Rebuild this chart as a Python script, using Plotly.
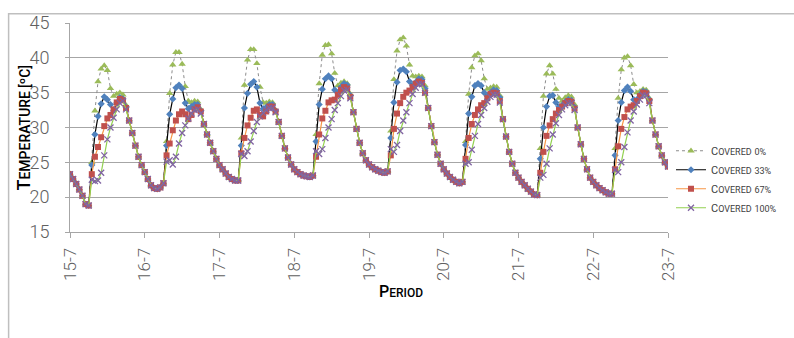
import plotly.graph_objects as go

# ---------------- data (hourly, 15-7 00:00 .. 23-7 00:00) ----------------
tick_labels = ["15-7", "16-7", "17-7", "18-7", "19-7", "20-7", "21-7", "22-7", "23-7"]
series_names = ["Covered 0%", "Covered 33%", "Covered 67%", "Covered 100%"]

# night values h0..h6 (all cases nearly equal)
night = [
    [23.3, 22.6, 21.9, 21.1, 20.2, 19.0, 18.8],
    [23.6, 22.6, 21.7, 21.3, 21.2, 21.4, 22.0],
    [24.6, 24.0, 23.4, 22.9, 22.6, 22.4, 22.4],
    [24.0, 23.6, 23.3, 23.1, 23.0, 22.9, 23.1],
    [24.7, 24.3, 24.0, 23.8, 23.6, 23.5, 23.7],
    [24.0, 23.4, 22.9, 22.5, 22.2, 22.0, 22.2],
    [22.8, 22.2, 21.7, 21.2, 20.8, 20.4, 20.3],
    [22.2, 21.7, 21.3, 21.0, 20.7, 20.5, 20.5],
]
# evening values h19..h23
evening = [
    [31.0, 29.2, 27.4, 25.8, 24.6],
    [30.5, 29.0, 27.8, 26.6, 25.5],
    [30.8, 28.8, 27.0, 25.7, 24.7],
    [32.2, 29.8, 27.8, 26.3, 25.3],
    [32.8, 30.2, 27.9, 26.1, 24.8],
    [31.2, 28.7, 26.5, 24.8, 23.5],
    [30.0, 27.6, 25.5, 24.0, 22.8],
    [31.0, 29.0, 27.3, 26.0, 25.0],
]
end_value = 24.4

# daytime values h7..h18 per case
day_0 = [
    [25.0, 32.4, 36.6, 38.4, 38.9, 38.2, 35.6, 34.5, 34.8, 35.0, 34.7, 33.2],
    [28.0, 34.9, 39.0, 40.8, 40.8, 39.1, 35.9, 33.8, 33.6, 33.8, 33.7, 32.6],
    [28.5, 36.1, 39.7, 41.2, 41.2, 39.2, 35.8, 33.6, 33.5, 33.7, 33.6, 32.5],
    [29.0, 36.3, 40.4, 41.8, 41.9, 40.6, 37.8, 36.0, 36.4, 36.6, 36.3, 34.8],
    [29.5, 36.9, 41.0, 42.6, 42.9, 41.7, 39.0, 37.4, 37.3, 37.4, 37.3, 36.0],
    [28.0, 34.8, 38.6, 40.3, 40.6, 39.6, 37.0, 35.5, 35.7, 35.9, 35.8, 34.6],
    [27.0, 34.5, 37.7, 38.9, 37.7, 35.5, 34.2, 33.8, 34.3, 34.6, 34.4, 33.3],
    [27.0, 34.2, 38.3, 40.0, 40.2, 38.9, 36.2, 35.0, 35.2, 35.5, 35.4, 34.2],
]
day_33 = [
    [24.6, 29.0, 31.6, 33.4, 34.4, 34.0, 33.3, 32.4, 33.5, 34.3, 34.1, 32.9],
    [27.4, 31.9, 34.1, 35.7, 36.1, 35.6, 33.5, 32.7, 33.0, 33.3, 33.3, 32.4],
    [27.4, 32.8, 34.9, 36.2, 36.6, 35.8, 33.5, 32.7, 32.9, 33.3, 33.3, 32.4],
    [28.0, 33.3, 35.5, 37.0, 37.4, 37.0, 35.4, 35.0, 35.8, 36.3, 36.1, 34.6],
    [28.5, 33.6, 36.5, 38.2, 38.4, 38.0, 36.6, 36.0, 36.5, 37.0, 36.9, 35.6],
    [27.5, 32.0, 34.4, 36.0, 36.3, 36.0, 35.0, 34.5, 35.0, 35.4, 35.3, 34.3],
    [25.5, 30.0, 33.0, 34.5, 34.6, 33.6, 33.0, 33.2, 33.7, 34.0, 33.9, 32.9],
    [26.0, 31.0, 33.6, 35.3, 35.8, 35.2, 34.0, 34.0, 34.7, 35.2, 35.1, 34.0],
]
day_67 = [
    [23.3, 25.8, 27.2, 28.6, 30.2, 31.3, 31.8, 32.6, 33.6, 34.1, 33.9, 32.8],
    [26.0, 27.7, 29.6, 31.0, 31.9, 32.3, 31.9, 31.2, 31.8, 32.6, 32.9, 32.3],
    [26.3, 28.5, 30.3, 31.4, 32.4, 32.6, 31.8, 31.6, 32.3, 33.0, 33.0, 32.3],
    [25.8, 29.0, 31.3, 32.4, 33.6, 33.9, 34.0, 34.7, 35.4, 35.8, 35.6, 34.4],
    [26.0, 29.8, 32.0, 33.5, 34.4, 35.0, 35.3, 35.8, 36.3, 36.6, 36.4, 35.0],
    [25.5, 28.5, 30.5, 31.8, 32.6, 33.2, 33.5, 34.2, 34.8, 35.0, 34.9, 33.8],
    [23.5, 26.5, 28.8, 30.3, 31.2, 32.0, 32.5, 33.0, 33.5, 33.8, 33.7, 32.7],
    [24.0, 27.3, 29.8, 31.5, 32.6, 33.0, 33.2, 33.8, 34.5, 35.0, 34.9, 33.8],
]
day_100 = [
    [22.5, 22.3, 22.4, 23.5, 26.0, 28.3, 30.0, 31.4, 32.6, 33.5, 33.8, 32.6],
    [25.1, 25.3, 24.7, 25.8, 27.7, 29.2, 30.3, 31.3, 32.0, 32.5, 32.6, 32.0],
    [26.2, 25.9, 26.6, 28.0, 29.5, 30.8, 31.6, 32.1, 32.5, 32.8, 32.8, 32.2],
    [26.6, 26.2, 26.9, 28.5, 30.0, 31.2, 32.5, 33.5, 34.5, 35.3, 35.4, 34.2],
    [26.9, 26.5, 27.5, 29.5, 31.0, 32.2, 33.5, 34.8, 35.7, 36.2, 36.2, 35.0],
    [24.8, 25.0, 26.8, 28.8, 30.5, 31.8, 32.8, 33.7, 34.4, 34.7, 34.7, 33.6],
    [22.8, 23.2, 24.8, 27.0, 29.0, 30.6, 31.8, 32.6, 33.2, 33.5, 33.5, 32.5],
    [23.9, 23.6, 25.0, 27.2, 29.3, 31.0, 32.3, 33.3, 34.0, 34.6, 34.6, 33.5],
]


def build(day_vals):
    out = []
    for n, d, e in zip(night, day_vals, evening):
        out += n + d + e
    out.append(end_value)
    return out


values = [build(day_0), build(day_33), build(day_67), build(day_100)]
hours = list(range(len(values[0])))
tick_vals = [24 * i for i in range(len(tick_labels))]

# ---------------- styling ----------------
marker_colors = ["#9BBB59", "#4F81BD", "#C0504D", "#8064A2"]
line_colors = ["#8c8c8c", "#000000", "#F79646", "#92D050"]
line_dash = ["dot", "solid", "solid", "solid"]
symbols = ["triangle-up", "diamond", "square", "x-thin-open"]
sizes = [6.5, 5.5, 6, 6]


def small_caps(text, big, small):
    words = text.split(" ")
    parts = []
    for w in words:
        if w and w[0].isalpha():
            parts.append(f"<span style='font-size:{big}px'>{w[0].upper()}</span>"
                         f"<span style='font-size:{small}px'>{w[1:].upper()}</span>")
        else:
            parts.append(f"<span style='font-size:{small}px'>{w}</span>")
    return " ".join(parts)


fig = go.Figure()
for i in range(4):
    mk = dict(symbol=symbols[i], size=sizes[i], color=marker_colors[i])
    if symbols[i].startswith("x-thin"):
        mk["line"] = dict(color=marker_colors[i], width=1.3)
    else:
        mk["line"] = dict(width=0)
    fig.add_trace(go.Scatter(
        x=hours, y=values[i], mode="lines+markers",
        name=small_caps(series_names[i], 11, 9),
        line=dict(color=line_colors[i], width=1 if i == 0 else 1.2, dash=line_dash[i]),
        marker=mk,
    ))

W, H = 794, 338
L, R, T, B = 70, 669, 18, 232


def px_x(p):
    return (p - L) / (R - L)


def px_y(p):
    return (B - p) / (B - T)


fig.update_layout(
    width=W, height=H,
    margin=dict(l=L, r=W - R, t=T, b=H - B),
    paper_bgcolor="white", plot_bgcolor="white",
    showlegend=True,
    legend=dict(x=px_x(672), y=px_y(178), xanchor="left", yanchor="middle",
                font=dict(family="Roboto, sans-serif", size=11, color="#404040"),
                itemwidth=30, tracegroupgap=0, bgcolor="rgba(0,0,0,0)"),
    xaxis=dict(range=[0, 192], tickvals=tick_vals, ticktext=tick_labels, tickangle=-90,
               showgrid=False, showline=True, linecolor="#a6a6a6", linewidth=1,
               ticks="outside", ticklen=5, tickcolor="#a6a6a6", ticklabelstandoff=3,
               tickfont=dict(family="Roboto, Lato, sans-serif", size=17, color="#606060", weight=300),
               zeroline=False),
    yaxis=dict(range=[15, 45], dtick=5, showgrid=True, gridcolor="#a6a6a6", gridwidth=1,
               showline=True, linecolor="#a6a6a6", linewidth=1,
               ticks="outside", ticklen=4, tickcolor="#a6a6a6", ticklabelstandoff=12,
               tickfont=dict(family="Roboto, Lato, sans-serif", size=18, color="#606060", weight=300),
               zeroline=False),
    annotations=[
        dict(text=small_caps("Temperature [ºC]", 18, 14), x=px_x(23), y=0.5,
             xref="paper", yref="paper", textangle=-90, showarrow=False,
             xanchor="center", yanchor="middle",
             font=dict(family="Roboto, sans-serif", color="#000000", weight=500)),
        dict(text=small_caps("Period", 16, 12), x=px_x(402), y=px_y(293),
             xref="paper", yref="paper", showarrow=False,
             xanchor="center", yanchor="middle",
             font=dict(family="Roboto, sans-serif", color="#000000", weight=500)),
    ],
    shapes=[
        dict(type="rect", xref="paper", yref="paper",
             x0=px_x(8.5), x1=px_x(820), y0=px_y(360), y1=px_y(8.5),
             line=dict(color="#bfbfbf", width=1.5), layer="below"),
    ],
)

fig.write_html("out.html", config={"displayModeBar": False},
               post_script="document.body.style.margin='0px';")
